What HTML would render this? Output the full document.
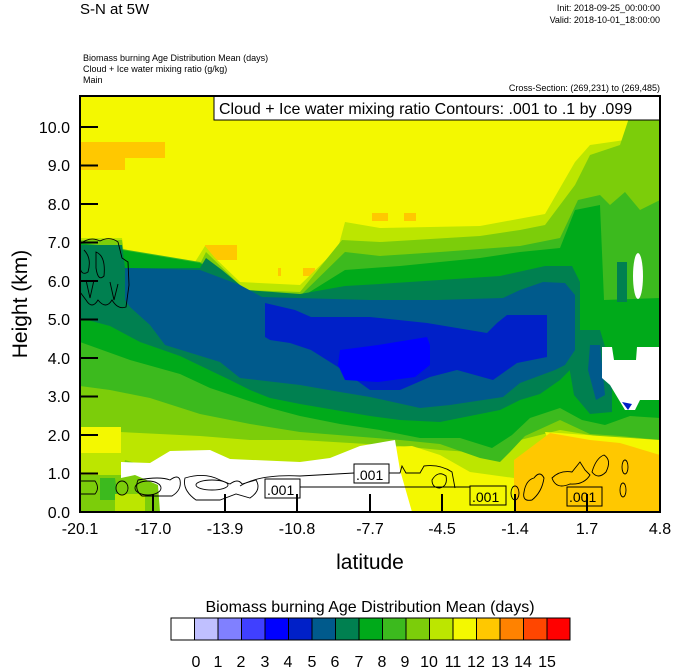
<!DOCTYPE html>
<html><head><meta charset="utf-8"><style>
body{margin:0;background:#fff}
svg{display:block}
text{font-family:"Liberation Sans",sans-serif}
</style></head><body>
<svg width="674" height="668" viewBox="0 0 674 668" xmlns="http://www.w3.org/2000/svg">
<defs><clipPath id="pc"><rect x="80" y="96" width="580" height="416"/></clipPath></defs>
<g clip-path="url(#pc)">
<rect x="80" y="96" width="580" height="416" fill="#f4f800"/>
<rect x="80" y="142" width="85" height="16" fill="#ffc800"/>
<rect x="80" y="158" width="45" height="12" fill="#ffc800"/>
<rect x="205" y="245" width="32" height="15" fill="#ffc800"/>
<rect x="278" y="268" width="3" height="8" fill="#ffc800"/>
<rect x="303" y="268" width="12" height="8" fill="#ffc800"/>
<rect x="372" y="213" width="16" height="8" fill="#ffc800"/>
<rect x="404" y="213" width="12" height="8" fill="#ffc800"/>
<path fill="#bce600" d="M80,238 L122,238 L125,262 L195,262 L205,246 L215,258 L240,282 L300,285 L338,248 L345,222 L380,228 L480,226 L545,214 L575,162 L590,145 L625,140 L640,100 L660,100 L660,512 L80,512Z"/>
<path fill="#7ccd0a" d="M80,240 L122,240 L125,264 L200,264 L206,252 L245,290 L300,292 L342,240 L380,242 L480,236 L520,230 L545,225 L575,185 L590,155 L620,145 L635,100 L660,100 L660,448 L620,440 L560,430 L520,440 L500,440 L470,452 L440,450 L400,446 L300,440 L250,440 L200,436 L120,432 L80,428Z"/>
<path fill="#3cba1e" d="M80,242 L200,262 L248,294 L300,296 L345,252 L380,256 L440,252 L520,246 L560,238 L578,200 L600,195 L610,205 L625,192 L640,210 L660,200 L660,440 L620,436 L590,434 L560,420 L525,436 L510,452 L500,462 L480,458 L440,444 L400,440 L300,432 L250,424 L200,414 L150,398 L110,390 L80,386Z"/>
<path fill="#00aa1a" d="M80,243 L200,263 L250,296 L300,298 L345,270 L400,266 L440,262 L480,258 L520,252 L560,248 L575,210 L600,205 L604,300 L660,298 L660,418 L630,416 L605,425 L582,420 L560,408 L530,418 L512,435 L492,448 L460,438 L420,438 L380,430 L340,424 L300,416 L270,408 L240,398 L210,388 L180,374 L130,360 L80,342Z"/>
<path fill="#008050" d="M80,245 L122,245 L125,268 L200,268 L206,258 L222,270 L246,290 L300,294 L345,286 L380,284 L440,280 L500,276 L545,266 L572,266 L580,282 L580,360 L560,380 L540,394 L520,400 L500,410 L470,416 L440,422 L400,420 L370,416 L300,404 L270,398 L250,390 L230,380 L180,356 L140,342 L110,326 L80,318Z"/>
<path fill="#008050" d="M570,330 L600,330 L612,370 L612,412 L590,414 L574,395 L568,360Z"/>
<path fill="#008050" d="M617,262 L627,262 L627,302 L617,302Z"/>
<path fill="#005a8c" d="M125,268 L200,270 L240,285 L262,297 L370,300 L437,300 L503,298 L520,290 L543,282 L565,283 L575,295 L575,350 L565,365 L555,370 L520,383 L503,397 L450,405 L420,408 L370,397 L340,392 L300,385 L240,378 L220,362 L165,345 L150,325 L130,307 L125,300Z"/>
<path fill="#005a8c" d="M590,345 L600,345 L605,395 L596,400 L588,370Z"/>
<path fill="#0020c8" d="M265,303 L295,310 L311,317 L370,317 L427,323 L487,333 L497,323 L507,315 L547,315 L547,357 L517,363 L493,380 L457,370 L430,377 L400,390 L370,390 L338,367 L311,350 L290,343 L270,340 L265,337Z"/>
<path fill="#0000ff" d="M340,350 L378,345 L427,337 L430,345 L430,365 L415,377 L378,382 L345,380 L338,365Z"/>
<ellipse cx="638" cy="276" rx="5" ry="23" fill="#fff"/>
<path fill="#fff" d="M602,347 L612,347 L614,360 L636,360 L637,347 L660,347 L660,400 L640,400 L635,410 L625,410 L610,385 L602,378Z"/>
<path fill="#0020c8" d="M622,402 L632,404 L628,410Z"/>
<path fill="#bce600" d="M80,436 L120,440 L200,446 L300,450 L380,452 L430,450 L470,462 L500,470 L514,470 L514,512 L80,512Z"/>
<path fill="#f4f800" d="M80,427 L121,427 L121,453 L80,453Z"/>
<path fill="#f4f800" d="M372,448 L412,446 L440,455 L470,472 L514,478 L514,512 L372,512Z"/>
<path fill="#f4f800" d="M545,432 L600,436 L660,440 L660,458 L600,448 L550,445Z"/>
<path fill="#ffc800" d="M514,460 L530,448 L550,433 L590,440 L620,443 L660,455 L660,512 L514,512Z"/>
<path fill="#7ccd0a" d="M80,475 L122,475 L125,460 L160,470 L165,512 L80,512Z"/>
<path fill="#3cba1e" d="M100,478 L115,478 L118,500 L100,500Z"/>
<rect x="115" y="494" width="30" height="18" fill="#bce600"/>
<path fill="#fff" d="M121,462 L150,463 L170,451 L210,450 L230,459 L300,462 L330,458 L360,446 L395,440 L400,470 L412,512 L160,512 L158,485 L135,475 L121,478Z"/>
<g fill="none" stroke="#000" stroke-width="0.9">
<path d="M80,244 Q90,236 100,241 Q110,236 118,242 L122,258 L128,262 L129,285 L126,307 Q118,310 112,300 Q106,310 98,300 Q92,310 86,300 L80,292"/>
<path d="M84,250 Q92,258 88,272 Q82,276 80,268"/>
<path d="M96,252 Q106,256 104,276 Q98,282 96,268Z"/>
<path d="M86,280 L90,298 L94,280"/>
<path d="M110,282 L114,300 L118,284"/>
<path d="M80,481 L95,481 Q100,488 95,494 L80,494"/>
<ellipse cx="122" cy="488" rx="6" ry="7"/>
<ellipse cx="148" cy="488" rx="13" ry="7"/>
<path d="M138,480 Q160,476 170,480 Q178,474 180,480 Q182,490 172,496 L142,496 Q134,490 138,480Z"/>
<path d="M185,478 Q205,472 220,480 L230,484 Q238,478 242,484 L256,480 Q262,490 250,498 L236,494 L220,500 L196,500 Q182,490 185,478Z"/>
<ellipse cx="212" cy="485" rx="16" ry="5"/>
<path d="M240,486 Q260,474 300,476 L354,473"/>
<path d="M300,487 L490,487 L490,492"/>
<path d="M389,473 L400,473 L402,466 L406,473 L420,473 L424,466 Q440,464 452,472 L455,488"/>
<path d="M432,480 Q438,470 446,476 Q448,486 440,488 Q432,488 432,480Z"/>
<ellipse cx="515" cy="493" rx="4" ry="7"/>
<path d="M524,492 Q526,480 534,478 Q540,470 544,478 Q542,492 532,500 Q522,502 524,492Z"/>
<path d="M552,478 Q560,470 572,472 L580,462 L585,470 L590,475 Q584,485 570,484 Q556,490 552,478Z"/>
<path d="M592,472 Q596,458 604,455 Q612,460 606,472 Q598,480 592,472Z"/>
<ellipse cx="625" cy="467" rx="3" ry="7"/>
<ellipse cx="623" cy="490" rx="3" ry="7"/>
</g>
<g stroke="#000" stroke-width="1">
<rect x="354" y="464" width="35" height="19" fill="#fff"/>
<rect x="265" y="479" width="35" height="19" fill="#fff"/>
<rect x="470" y="486" width="36" height="19" fill="#f4f800"/>
<rect x="567" y="487" width="35" height="19" fill="#ffc800"/>
</g>
<g font-size="14" fill="#000">
<text x="356" y="480">.001</text>
<text x="267" y="495">.001</text>
<text x="472" y="502">.001</text>
<text x="569" y="502">.001</text>
</g>
<rect x="214" y="96" width="446" height="24" fill="#fff" stroke="#000" stroke-width="1"/>
<text x="219" y="114" font-size="16">Cloud + Ice water mixing ratio Contours: .001 to .1 by .099</text>
</g>
<rect x="80" y="96" width="580" height="416" fill="none" stroke="#000" stroke-width="2"/>
<g stroke="#000" stroke-width="2">
<line x1="80" y1="127" x2="98" y2="127"/><line x1="80" y1="165.5" x2="98" y2="165.5"/>
<line x1="80" y1="204" x2="98" y2="204"/><line x1="80" y1="242.5" x2="98" y2="242.5"/>
<line x1="80" y1="281" x2="98" y2="281"/><line x1="80" y1="319.5" x2="98" y2="319.5"/>
<line x1="80" y1="358" x2="98" y2="358"/><line x1="80" y1="396.5" x2="98" y2="396.5"/>
<line x1="80" y1="435" x2="98" y2="435"/><line x1="80" y1="473.5" x2="98" y2="473.5"/>
<line x1="153" y1="512" x2="153" y2="494"/><line x1="225" y1="512" x2="225" y2="494"/>
<line x1="297" y1="512" x2="297" y2="494"/><line x1="370" y1="512" x2="370" y2="494"/>
<line x1="442" y1="512" x2="442" y2="494"/><line x1="515" y1="512" x2="515" y2="494"/>
<line x1="587" y1="512" x2="587" y2="494"/>
</g>
<g font-size="16" text-anchor="end" fill="#000">
<text x="70" y="133">10.0</text><text x="70" y="210">8.0</text><text x="70" y="171">9.0</text>
<text x="70" y="248">7.0</text><text x="70" y="287">6.0</text><text x="70" y="325">5.0</text>
<text x="70" y="364">4.0</text><text x="70" y="402">3.0</text><text x="70" y="441">2.0</text>
<text x="70" y="479">1.0</text><text x="70" y="518">0.0</text>
</g>
<g font-size="16" text-anchor="middle" fill="#000">
<text x="80" y="534">-20.1</text><text x="153" y="534">-17.0</text><text x="225" y="534">-13.9</text>
<text x="297" y="534">-10.8</text><text x="370" y="534">-7.7</text><text x="442" y="534">-4.5</text>
<text x="515" y="534">-1.4</text><text x="587" y="534">1.7</text><text x="660" y="534">4.8</text>
</g>
<text x="370" y="569" font-size="21" text-anchor="middle">latitude</text>
<text transform="translate(27,304) rotate(-90)" font-size="21" text-anchor="middle">Height (km)</text>
<text x="80" y="14" font-size="15">S-N at 5W</text>
<g font-size="9" text-anchor="end"><text x="660" y="11">Init: 2018-09-25_00:00:00</text><text x="660" y="23">Valid: 2018-10-01_18:00:00</text>
<text x="660" y="91">Cross-Section: (269,231) to (269,485)</text></g>
<g font-size="9"><text x="83" y="61">Biomass burning Age Distribution Mean   (days)</text>
<text x="83" y="72">Cloud + Ice water mixing ratio   (g/kg)</text><text x="83" y="83">Main</text></g>
<text x="370" y="612" font-size="16" text-anchor="middle">Biomass burning Age Distribution Mean  (days)</text>
<g stroke="#000" stroke-width="1">
<rect x="171" y="618" width="23.5" height="22" fill="#fff"/>
<rect x="194.5" y="618" width="23.5" height="22" fill="#c0c0ff"/>
<rect x="218" y="618" width="23.5" height="22" fill="#8080ff"/>
<rect x="241.5" y="618" width="23.5" height="22" fill="#4040ff"/>
<rect x="265" y="618" width="23.5" height="22" fill="#0000ff"/>
<rect x="288.5" y="618" width="23.5" height="22" fill="#0020c8"/>
<rect x="312" y="618" width="23.5" height="22" fill="#005a8c"/>
<rect x="335.5" y="618" width="23.5" height="22" fill="#008050"/>
<rect x="359" y="618" width="23.5" height="22" fill="#00aa1a"/>
<rect x="382.5" y="618" width="23.5" height="22" fill="#3cba1e"/>
<rect x="406" y="618" width="23.5" height="22" fill="#7ccd0a"/>
<rect x="429.5" y="618" width="23.5" height="22" fill="#bce600"/>
<rect x="453" y="618" width="23.5" height="22" fill="#f4f800"/>
<rect x="476.5" y="618" width="23.5" height="22" fill="#ffc800"/>
<rect x="500" y="618" width="23.5" height="22" fill="#ff8200"/>
<rect x="523.5" y="618" width="23.5" height="22" fill="#ff4600"/>
<rect x="547" y="618" width="23" height="22" fill="#ff0000"/>
</g>
<g font-size="16" text-anchor="middle">
<text x="196" y="667">0</text><text x="218" y="667">1</text><text x="241" y="667">2</text>
<text x="265" y="667">3</text><text x="288" y="667">4</text><text x="312" y="667">5</text>
<text x="335" y="667">6</text><text x="359" y="667">7</text><text x="382" y="667">8</text>
<text x="405" y="667">9</text><text x="429" y="667">10</text><text x="453" y="667">11</text>
<text x="476" y="667">12</text><text x="500" y="667">13</text><text x="523" y="667">14</text>
<text x="547" y="667">15</text>
</g>
</svg>
</body></html>
